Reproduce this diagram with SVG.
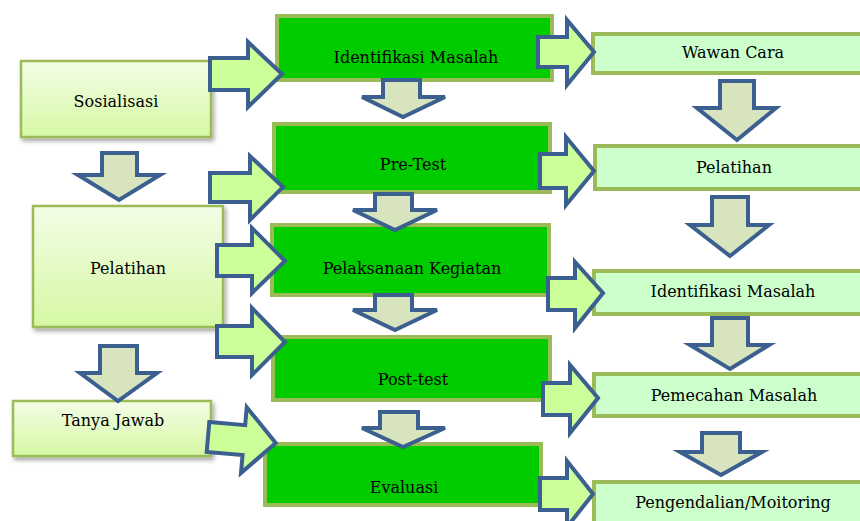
<svg xmlns="http://www.w3.org/2000/svg" width="860" height="521" viewBox="0 0 860 521">
<defs>
<linearGradient id="lg" x1="0" y1="0" x2="0" y2="1">
<stop offset="0" stop-color="#f3fde6"/>
<stop offset="1" stop-color="#d5f8a4"/>
</linearGradient>
<filter id="sh" x="-10%" y="-10%" width="125%" height="130%">
<feDropShadow dx="2" dy="3" stdDeviation="2" flood-color="#000" flood-opacity="0.35"/>
</filter>
</defs>
<style>
.lbox{fill:url(#lg);stroke:#9bbb59;stroke-width:2.5;filter:url(#sh)}
.mbox{fill:#00cc00;stroke:#9bbb59;stroke-width:4}
.rbox{fill:#ccffcc;stroke:#9bbb59;stroke-width:4}
.ra{fill:#ccff99;stroke:#3b5f8f;stroke-width:4;stroke-linejoin:miter}
.da{fill:#d7e4bd;stroke:#3b5f8f;stroke-width:4;stroke-linejoin:miter}
.t{font-family:"DejaVu Serif",serif;font-size:16px;fill:#000;text-anchor:middle}
</style>
<rect width="860" height="521" fill="#fff"/>
<g id="sosialisasi"><rect class="lbox" x="21" y="61" width="190" height="76"/><text class="t" x="116" y="107">Sosialisasi</text></g>
<g id="pelatihan-left"><rect class="lbox" x="33" y="206" width="190" height="121"/><text class="t" x="128" y="274">Pelatihan</text></g>
<g id="tanya-jawab"><rect class="lbox" x="13" y="401" width="198" height="55"/><text class="t" x="113" y="426">Tanya Jawab</text></g>
<g id="identifikasi-mid"><rect class="mbox" x="277" y="16" width="275" height="64"/><text class="t" x="416" y="63">Identifikasi Masalah</text></g>
<g id="pre-test"><rect class="mbox" x="274" y="124" width="276" height="68"/><text class="t" x="413" y="170">Pre-Test</text></g>
<g id="pelaksanaan"><rect class="mbox" x="272" y="225" width="277" height="70"/><text class="t" x="412" y="274">Pelaksanaan Kegiatan</text></g>
<g id="post-test"><rect class="mbox" x="273" y="337" width="277" height="63"/><text class="t" x="413" y="385">Post-test</text></g>
<g id="evaluasi"><rect class="mbox" x="265" y="444" width="276" height="61"/><text class="t" x="404" y="493">Evaluasi</text></g>
<g id="wawan-cara"><rect class="rbox" x="593" y="34" width="280" height="39"/><text class="t" x="733" y="58">Wawan Cara</text></g>
<g id="pelatihan-right"><rect class="rbox" x="595" y="146" width="280" height="43"/><text class="t" x="734" y="173">Pelatihan</text></g>
<g id="identifikasi-right"><rect class="rbox" x="594" y="271" width="280" height="43"/><text class="t" x="733" y="297">Identifikasi Masalah</text></g>
<g id="pemecahan"><rect class="rbox" x="594" y="374" width="280" height="42"/><text class="t" x="734" y="401">Pemecahan Masalah</text></g>
<g id="pengendalian"><rect class="rbox" x="594" y="482" width="280" height="50"/><text class="t" x="733" y="508">Pengendalian/Moitoring</text></g>
<g id="connectors">
<polygon class="ra" points="210,58 248,58 248,42 282,74 248,107 248,90 210,90"/>
<polygon class="ra" points="210,173 250,173 250,156 283,187 250,220 250,202 210,202"/>
<polygon class="ra" points="217,245 252,245 252,228 285,261 252,293 252,276 217,276"/>
<polygon class="ra" points="217,326 252,326 252,308 285,342 252,375 252,357 217,357"/>
<polygon class="ra" transform="translate(208,437) rotate(5)" points="0,-15 36,-15 36,-33 68,0 36,33 36,15 0,15"/>
<polygon class="ra" points="538,37 567,37 567,20 594,52 567,85 567,67 538,67"/>
<polygon class="ra" points="540,154 566,154 566,137 594,171 566,205 566,188 540,188"/>
<polygon class="ra" points="548,278 575,278 575,262 603,293 575,328 575,310 548,310"/>
<polygon class="ra" points="543,383 570,383 570,365 598,398 570,433 570,415 543,415"/>
<polygon class="ra" points="540,478 567,478 567,461 593,494 567,527 567,510 540,510"/>
<polygon class="da" points="102,153 137,153 137,175 160,175 119,200 78,175 102,175"/>
<polygon class="da" points="100,346 137,346 137,373 157,373 118,401 80,373 100,373"/>
<polygon class="da" points="383,80 420,80 420,97 445,97 403,117 362,97 383,97"/>
<polygon class="da" points="375,194 412,194 412,210 437,210 395,230 353,210 375,210"/>
<polygon class="da" points="375,295 412,295 412,310 437,310 395,330 353,310 375,310"/>
<polygon class="da" points="380,412 418,412 418,428 445,428 403,447 362,428 380,428"/>
<polygon class="da" points="720,81 754,81 754,108 776,108 737,140 697,108 720,108"/>
<polygon class="da" points="712,197 748,197 748,225 769,225 730,256 690,225 712,225"/>
<polygon class="da" points="712,318 748,318 748,345 769,345 730,369 690,345 712,345"/>
<polygon class="da" points="702,433 740,433 740,452 762,452 721,475 680,452 702,452"/>
</g>
</svg>
